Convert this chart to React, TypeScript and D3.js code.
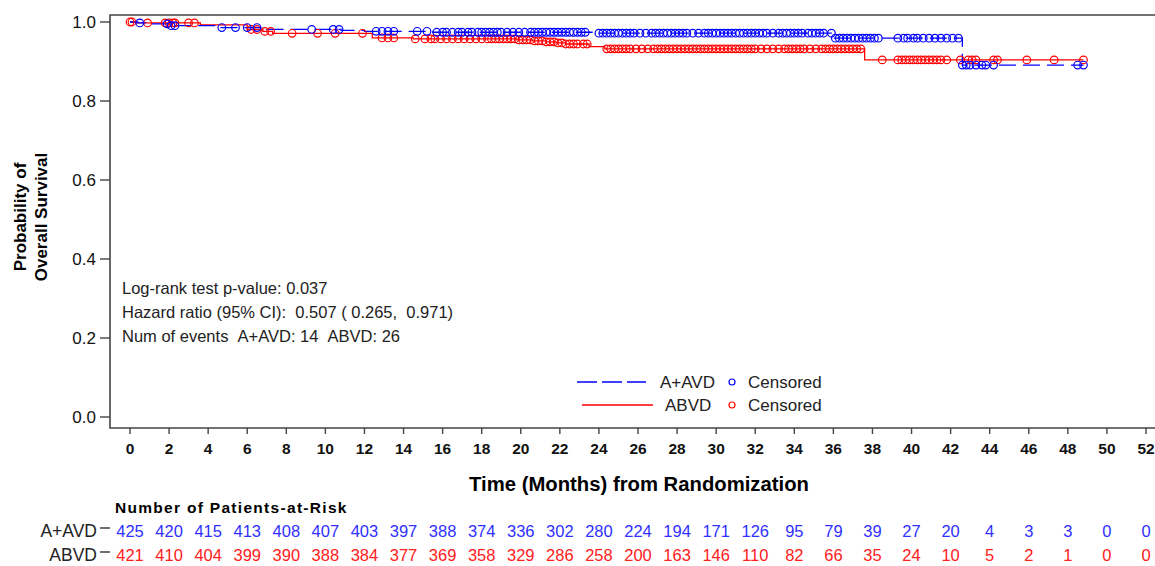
import React from 'react';
import * as d3 from 'd3';

// x axis ticks (months) and patients at risk at each tick
const monthTicks = [0, 2, 4, 6, 8, 10, 12, 14, 16, 18, 20, 22, 24, 26, 28, 30, 32, 34, 36, 38, 40, 42, 44, 46, 48, 50, 52];
const probTicks = [0, 0.2, 0.4, 0.6, 0.8, 1.0];
const riskAAVD = [425, 420, 415, 413, 408, 407, 403, 397, 388, 374, 336, 302, 280, 224, 194, 171, 126, 95, 79, 39, 27, 20, 4, 3, 3, 0, 0];
const riskABVD = [421, 410, 404, 399, 390, 388, 384, 377, 369, 358, 329, 286, 258, 200, 163, 146, 110, 82, 66, 35, 24, 10, 5, 2, 1, 0, 0];

// KM step points (month, survival)
const aavdTimes = [0, 0.4, 0.8, 2.0, 4.6, 7.0, 10.8, 12.0, 15.5, 23.9, 36.0, 42.6, 48.8];
const aavdSurv = [1, 0.9976, 0.9953, 0.9906, 0.9859, 0.9812, 0.9788, 0.9764, 0.974, 0.9716, 0.959, 0.891, 0.891];
const abvdTimes = [0, 0.3, 3.6, 6.0, 6.8, 7.3, 12.4, 14.5, 19.8, 20.6, 21.3, 21.8, 22.3, 23.5, 24.3, 37.6, 48.8];
const abvdSurv = [1, 0.9976, 0.9929, 0.981, 0.9762, 0.9714, 0.9596, 0.9572, 0.9547, 0.9522, 0.9497, 0.947, 0.9443, 0.9375, 0.932, 0.904, 0.904];

// censored times (months)
const aavdCensor = [0.5, 1.9, 2.1, 2.3, 4.7, 5.4, 6.0, 6.5, 9.3, 10.4, 10.7, 12.6, 12.9, 13.2, 13.5, 14.7, 15.2, 15.7, 16.0, 16.2, 16.5, 16.8, 17.0, 17.3, 17.5, 17.8, 18.0, 18.2, 18.4, 18.6, 18.8, 19.0, 19.3, 19.6, 19.9, 20.2, 20.5, 20.7, 20.9, 21.1, 21.3, 21.5, 21.7, 21.9, 22.1, 22.3, 22.5, 22.7, 22.9, 23.1, 23.3, 24.0, 24.2, 24.4, 24.6, 24.8, 25.0, 25.2, 25.4, 25.6, 25.8, 26.1, 26.4, 26.7, 26.9, 27.1, 27.3, 27.5, 27.7, 27.9, 28.1, 28.3, 28.5, 28.8, 29.1, 29.4, 29.6, 29.8, 30.0, 30.2, 30.4, 30.6, 30.8, 31.0, 31.2, 31.4, 31.6, 31.8, 32.0, 32.2, 32.4, 32.6, 32.9, 33.2, 33.4, 33.6, 33.8, 34.0, 34.2, 34.4, 34.7, 34.9, 35.1, 35.3, 35.5, 35.9, 36.1, 36.3, 36.5, 36.7, 36.9, 37.1, 37.3, 37.5, 37.7, 37.9, 38.1, 38.3, 39.3, 39.6, 39.8, 40.1, 40.3, 40.6, 40.9, 41.2, 41.5, 41.8, 42.1, 42.4, 42.6, 42.8, 43.0, 43.3, 43.6, 43.8, 44.2, 48.5, 48.8];
const abvdCensor = [0.0, 0.1, 0.9, 1.8, 2.0, 2.2, 2.3, 3.0, 3.3, 6.2, 6.5, 6.9, 7.2, 8.3, 9.6, 10.5, 11.9, 12.9, 13.2, 13.5, 14.6, 15.1, 15.4, 15.6, 15.9, 16.2, 16.5, 16.8, 17.1, 17.4, 17.7, 18.0, 18.3, 18.5, 18.7, 18.9, 19.1, 19.3, 19.5, 19.7, 19.9, 20.1, 20.3, 20.5, 20.7, 20.9, 21.1, 21.3, 21.5, 21.7, 21.9, 22.1, 22.3, 22.5, 22.7, 22.9, 23.2, 23.4, 24.4, 24.6, 24.8, 25.0, 25.2, 25.4, 25.6, 25.9, 26.2, 26.5, 26.8, 27.0, 27.2, 27.4, 27.6, 27.8, 28.0, 28.2, 28.4, 28.6, 28.8, 29.0, 29.2, 29.4, 29.6, 29.8, 30.0, 30.2, 30.4, 30.6, 30.8, 31.0, 31.2, 31.4, 31.6, 31.8, 32.0, 32.3, 32.6, 32.9, 33.2, 33.5, 33.7, 33.9, 34.1, 34.3, 34.5, 34.8, 35.1, 35.4, 35.6, 35.8, 36.0, 36.2, 36.4, 36.6, 36.8, 37.0, 37.2, 37.4, 38.5, 39.3, 39.5, 39.7, 39.9, 40.1, 40.3, 40.5, 40.7, 40.9, 41.1, 41.3, 41.5, 41.8, 42.5, 42.9, 43.1, 43.3, 44.2, 44.4, 45.9, 47.3, 48.8];

const statLines = [
  'Log-rank test p-value: 0.037',
  'Hazard ratio (95% CI):\u00a0\u00a00.507 ( 0.265,\u00a0\u00a00.971)',
  'Num of events\u00a0\u00a0A+AVD: 14\u00a0\u00a0ABVD: 26',
];

const BLUE = '#0000ff';
const RED = '#ff0000';
const FONT = '"Liberation Sans", Arial, sans-serif';

const W = 1155, H = 566;
const frame = {left: 110, top: 15, right: 1160, bottom: 428};

function survAt(times: number[], surv: number[], t: number) {
  let s = surv[0];
  for (let i = 0; i < times.length; i++) {
    if (times[i] <= t) s = surv[i];
  }
  return s;
}

export default function App() {
  const x = d3.scaleLinear().domain([0, 52]).range([130, 1146]);
  const y = d3.scaleLinear().domain([0, 1]).range([417, 22]);

  const line = d3.line<[number, number]>()
    .x(d => x(d[0]))
    .y(d => y(d[1]))
    .curve(d3.curveStepAfter);

  const aavdPath = line(aavdTimes.map((t, i) => [t, aavdSurv[i]]))!;
  const abvdPath = line(abvdTimes.map((t, i) => [t, abvdSurv[i]]))!;

  return (
    <svg width={W} height={H} style={{position: 'absolute', left: 0, top: 0, background: '#fff'}} fontFamily={FONT}>
      {/* frame */}
      <path d={`M${frame.right},${frame.top}H${frame.left}V${frame.bottom}H${frame.right}`}
            fill="none" stroke="#444" strokeWidth={1.6}/>

      {/* y axis */}
      {probTicks.map(p => (
        <g key={p}>
          <line x1={100} x2={frame.left} y1={y(p)} y2={y(p)} stroke="#444" strokeWidth={1.4}/>
          <text x={96} y={y(p)} dy="0.36em" textAnchor="end" fontSize={17} fill="#111">{p.toFixed(1)}</text>
        </g>
      ))}
      <g transform="translate(26,217) rotate(-90)" fontWeight="bold" fontSize={17} fill="#000" textAnchor="middle">
        <text x={0} y={0}>Probability of</text>
        <text x={0} y={21}>Overall Survival</text>
      </g>

      {/* x axis */}
      {monthTicks.map(m => (
        <g key={m}>
          <line x1={x(m)} x2={x(m)} y1={frame.bottom} y2={frame.bottom + 6} stroke="#444" strokeWidth={1.4}/>
          <text x={x(m)} y={454} textAnchor="middle" fontSize={15.5} fontWeight="bold" fill="#111">{m}</text>
        </g>
      ))}
      <text x={639} y={491} textAnchor="middle" fontSize={20.3} fontWeight="bold" fill="#000">
        Time (Months) from Randomization
      </text>

      {/* curves */}
      <path d={abvdPath} fill="none" stroke={RED} strokeWidth={1.3}/>
      <path d={aavdPath} fill="none" stroke={BLUE} strokeWidth={1.3} strokeDasharray="17,7"/>
      {abvdCensor.map((t, i) => (
        <circle key={'r' + i} cx={x(t)} cy={y(survAt(abvdTimes, abvdSurv, t))} r={3.8}
                fill="none" stroke={RED} strokeWidth={1.2}/>
      ))}
      {aavdCensor.map((t, i) => (
        <circle key={'b' + i} cx={x(t)} cy={y(survAt(aavdTimes, aavdSurv, t))} r={3.8}
                fill="none" stroke={BLUE} strokeWidth={1.2}/>
      ))}

      {/* stats */}
      <g fontSize={16.5} fill="#222">
        {statLines.map((s, i) => (
          <text key={i} x={122} y={294 + i * 24}>{s}</text>
        ))}
      </g>

      {/* legend */}
      <line x1={577} x2={646} y1={382} y2={382} stroke={BLUE} strokeWidth={1.3} strokeDasharray="20,5"/>
      <text x={660} y={388} fontSize={17} fill="#222">A+AVD</text>
      <circle cx={732} cy={382} r={3} fill="none" stroke={BLUE} strokeWidth={1.2}/>
      <text x={748} y={388} fontSize={17} fill="#222">Censored</text>
      <line x1={582} x2={653} y1={405} y2={405} stroke={RED} strokeWidth={1.3}/>
      <text x={665} y={411} fontSize={17} fill="#222">ABVD</text>
      <circle cx={732} cy={405} r={3} fill="none" stroke={RED} strokeWidth={1.2}/>
      <text x={748} y={411} fontSize={17} fill="#222">Censored</text>

      {/* risk table */}
      <text x={115} y={513} fontSize={15.5} fontWeight="bold" letterSpacing={1.3} fill="#000">Number of Patients-at-Risk</text>
      <text x={97} y={537} textAnchor="end" fontSize={17.5} fill="#222">A+AVD</text>
      <line x1={100} x2={110} y1={528} y2={528} stroke="#222" strokeWidth={1.3}/>
      <text x={97} y={561} textAnchor="end" fontSize={17.5} fill="#222">ABVD</text>
      <line x1={100} x2={110} y1={552} y2={552} stroke="#222" strokeWidth={1.3}/>
      {monthTicks.map((m, i) => (
        <g key={'risk' + m} fontSize={16.5} textAnchor="middle">
          <text x={x(m)} y={537} fill="#3030ff">{riskAAVD[i]}</text>
          <text x={x(m)} y={561} fill="#ff2020">{riskABVD[i]}</text>
        </g>
      ))}
    </svg>
  );
}
